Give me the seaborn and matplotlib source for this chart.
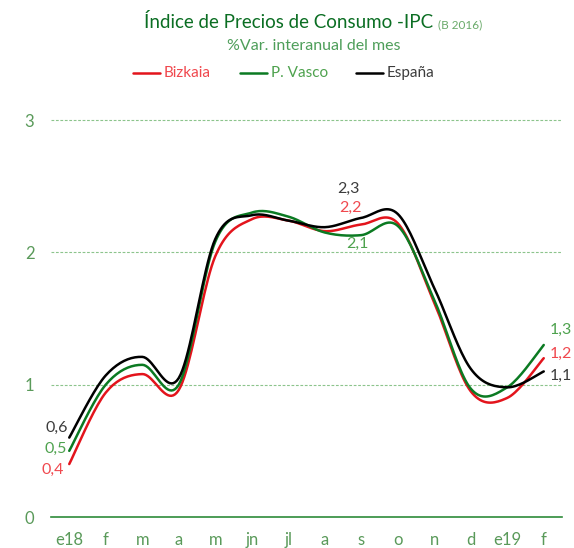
import numpy as np
import pandas as pd
import matplotlib
matplotlib.use('Agg')
import matplotlib.pyplot as plt
import seaborn as sns

# months (Jan 2018 - Feb 2019)
months = ['e18', 'f', 'm', 'a', 'm', 'jn', 'jl', 'a', 's', 'o', 'n', 'd', 'e19', 'f']
# % annual variation of CPI
bizkaia = [0.4, 0.94, 1.08, 0.96, 1.97, 2.25, 2.24, 2.16, 2.21, 2.22, 1.62, 0.95, 0.9, 1.2]
pvasco = [0.5, 1.0, 1.15, 1.0, 2.08, 2.30, 2.27, 2.15, 2.13, 2.20, 1.64, 0.97, 0.98, 1.3]
espana = [0.6, 1.07, 1.21, 1.05, 2.1, 2.28, 2.24, 2.19, 2.26, 2.29, 1.73, 1.12, 0.98, 1.1]

series = {'Bizkaia': bizkaia, 'P. Vasco': pvasco, 'España': espana}
line_colors = {'Bizkaia': '#e3141c', 'P. Vasco': '#0b7a22', 'España': '#000000'}
text_colors = {'Bizkaia': '#f0484e', 'P. Vasco': '#4ea24e', 'España': '#3c3c3c'}


def smooth(y, steps=20):
    # catmull-rom path through the points (like excel smoothed lines)
    y = np.asarray(y, dtype=float)
    x = np.arange(len(y), dtype=float)
    px = np.concatenate([[x[0]], x, [x[-1]]])
    py = np.concatenate([[y[0]], y, [y[-1]]])
    xs, ys = [], []
    for i in range(1, len(px) - 2):
        t = np.linspace(0, 1, steps, endpoint=False)
        for arr, out in ((px, xs), (py, ys)):
            p0, p1, p2, p3 = arr[i - 1], arr[i], arr[i + 1], arr[i + 2]
            c1 = p1 + (p2 - p0) / 6.0
            c2 = p2 - (p3 - p1) / 6.0
            out.extend((1 - t) ** 3 * p1 + 3 * (1 - t) ** 2 * t * c1 + 3 * (1 - t) * t ** 2 * c2 + t ** 3 * p2)
    xs.append(x[-1])
    ys.append(y[-1])
    return np.array(xs), np.array(ys)


frames = []
for name, vals in series.items():
    sx, sy = smooth(vals)
    frames.append(pd.DataFrame({'x': sx, 'y': sy, 'serie': name}))
df = pd.concat(frames, ignore_index=True)

sns.set_style('white')
plt.rcParams['font.family'] = ['Lato', 'DejaVu Sans']

fig = plt.figure(figsize=(5.74, 5.48), dpi=100)
ax = fig.add_axes([51 / 574, 1 - 517 / 548, (562 - 51) / 574, (517 - 120) / 548])

sns.lineplot(data=df, x='x', y='y', hue='serie', palette=line_colors, sort=False,
             estimator=None, linewidth=1.8, ax=ax, legend=False)

ax.set_xlim(-0.5, len(months) - 0.5)
ax.set_ylim(0, 3)
ax.set_xlabel('')
ax.set_ylabel('')

grid_color = '#8cc48c'
for v in [1, 2, 3]:
    ax.axhline(v, color=grid_color, linestyle=(0, (2.5, 1.5)), linewidth=0.8, zorder=0, clip_on=False)

for s in ['top', 'right', 'left']:
    ax.spines[s].set_visible(False)
ax.spines['bottom'].set_color('#2e8b3a')
ax.spines['bottom'].set_linewidth(1.2)

ax.set_xticks(np.arange(len(months)))
ax.set_xticklabels(months)
ax.set_xticks(np.arange(len(months) + 1) - 0.5, minor=True)
ax.tick_params(axis='x', which='major', length=0, pad=11, labelsize=12, labelcolor='#5a9a5a')
ax.tick_params(axis='x', which='minor', direction='in', length=5, width=1, color='#2e8b3a')
ax.set_yticks([0, 1, 2, 3])
ax.set_yticklabels(['0', '1', '2', '3'])
ax.tick_params(axis='y', length=0, pad=12, labelsize=12, labelcolor='#5a9a5a')

# data labels
lab_kw = dict(fontsize=11.5)
n = len(months) - 1
ax.annotate('0,6', (0, espana[0]), xytext=(-9, 2), textcoords='offset points', ha='center', va='bottom', color=text_colors['España'], **lab_kw)
ax.annotate('0,5', (0, pvasco[0]), xytext=(-10, -4), textcoords='offset points', ha='center', va='bottom', color=text_colors['P. Vasco'], **lab_kw)
ax.annotate('0,4', (0, bizkaia[0]), xytext=(-12, -9), textcoords='offset points', ha='center', va='bottom', color=text_colors['Bizkaia'], **lab_kw)
ax.annotate('2,3', (8, espana[8]), xytext=(-9, 16), textcoords='offset points', ha='center', va='bottom', color=text_colors['España'], **lab_kw)
ax.annotate('2,2', (8, bizkaia[8]), xytext=(-8, 7), textcoords='offset points', ha='center', va='bottom', color=text_colors['Bizkaia'], **lab_kw)
ax.annotate('2,1', (8, pvasco[8]), xytext=(-3, -1), textcoords='offset points', ha='center', va='top', color=text_colors['P. Vasco'], **lab_kw)
ax.annotate('1,3', (n, pvasco[n]), xytext=(12, 6), textcoords='offset points', ha='center', va='bottom', color=text_colors['P. Vasco'], **lab_kw)
ax.annotate('1,2', (n, bizkaia[n]), xytext=(12, 3), textcoords='offset points', ha='center', va='center', color=text_colors['Bizkaia'], **lab_kw)
ax.annotate('1,1', (n, espana[n]), xytext=(12, -3), textcoords='offset points', ha='center', va='center', color=text_colors['España'], **lab_kw)

# titles
fig.text(433 / 574, 1 - 22 / 548, 'Índice de Precios de Consumo -IPC', ha='right', va='center',
         fontsize=13.5, color='#0b6e23')
fig.text(438 / 574, 1 - 25 / 548, '(B 2016)', ha='left', va='center', fontsize=8.5, color='#6aaa6a')
fig.text(314 / 574, 1 - 46 / 548, '%Var. interanual del mes', ha='center', va='center',
         fontsize=11.5, color='#4e9e5a')

# legend
legend_x = [133, 240, 356]
for (name, col), lx in zip(line_colors.items(), legend_x):
    fig.add_artist(plt.Line2D([lx / 574, (lx + 27) / 574], [1 - 73 / 548] * 2, color=col, linewidth=1.8))
    fig.text((lx + 31) / 574, 1 - 73 / 548, name, ha='left', va='center', fontsize=11,
             color=text_colors[name])

fig.savefig('out.png', dpi=100)
